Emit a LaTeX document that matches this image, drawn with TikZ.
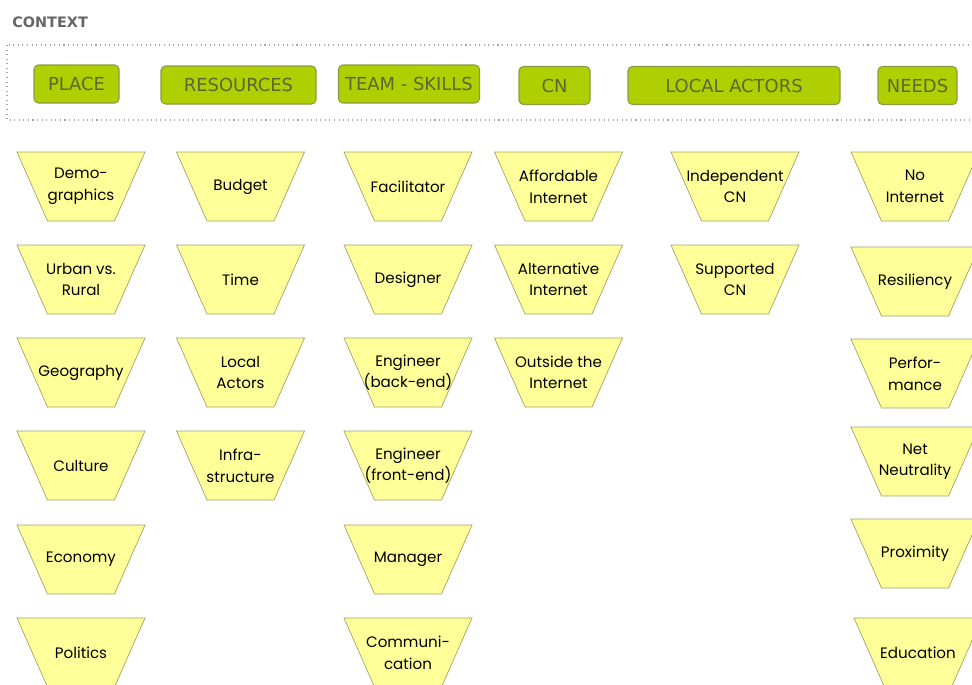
\documentclass[tikz,border=0pt]{standalone}
\usepackage{fontspec}
\setsansfont{DejaVu Sans}
\newfontfamily\cardfont{Poppins}
\usetikzlibrary{positioning}

\definecolor{headgreen}{HTML}{B0CF00}
\definecolor{headline}{HTML}{8C9A45}
\definecolor{headtext}{HTML}{5E6633}
\definecolor{cardfill}{HTML}{FFFF9A}
\definecolor{cardline}{HTML}{A3A36B}
\definecolor{ctxgray}{HTML}{666666}

\tikzset{
  head/.style={draw=headline,fill=headgreen,rounded corners=2.5pt,line width=.6pt,
    text=headtext,font=\sffamily\fontsize{10.2}{12}\selectfont,inner sep=0pt},
  cardshape/.style={draw=cardline,fill=cardfill,line width=.4pt},
  cardtext/.style={align=center,inner sep=0pt,font=\cardfont\fontsize{8.6}{12.3}\selectfont},
}

% one card: name, x, y, text
\newcommand\card[4]{%
  \filldraw[cardshape,shift={(#2,#3)}] (-64,-34.5) -- (64,-34.5) -- (33.5,34.5) -- (-33.5,34.5) -- cycle;
  \node[cardtext] (#1) at (#2,#3) {#4};}

\begin{document}
\begin{tikzpicture}[x=0.02cm,y=-0.02cm]%
\useasboundingbox (0,0) rectangle (972,684);
\clip (0,0) rectangle (972,684);
\fill[white] (0,0) rectangle (972,684);

\node[anchor=west,inner sep=0pt,text=ctxgray,font=\sffamily\bfseries\fontsize{8.2}{10}\selectfont] (ctx) at (12,22) {CONTEXT};
\draw[gray!70,dotted,line width=.6pt] (7,45) rectangle (1000,120);

\begin{scope}
  \tikzstyle{every node}=[head,minimum height=38*0.02cm];%%
  \node[minimum width=85*0.02cm]  (place) at (76.5,84)  {PLACE}; %%
  \node[minimum width=155*0.02cm] (res)   at (238.5,85) {RESOURCES}; %%
  \node[minimum width=141*0.02cm] (team)  at (409,84)   {TEAM - SKILLS}; %%
  \node[minimum width=71*0.02cm]  (cn)    at (554.5,85.5) {CN}; %%
  \node[minimum width=212*0.02cm] (local) at (734,85.5) {LOCAL ACTORS}; %%
  \node[minimum width=79*0.02cm]  (needs) at (917.5,85.5) {NEEDS}; %%
\end{scope}

% place
\card{demo}{81}{186.5}{Demo-\\graphics}
\card{urban}{81}{279.5}{Urban vs.\\Rural}
\card{geo}{81}{372.5}{Geography}
\card{cult}{81}{465.5}{Culture}
\card{eco}{81}{559.5}{Economy}
\card{pol}{81}{652.5}{Politics}
% resources
\card{budget}{240.5}{186.5}{Budget}
\card{time}{240.5}{279.5}{Time}
\card{lact}{240.5}{372.5}{Local\\Actors}
\card{infra}{240.5}{465.5}{Infra-\\structure}
% team - skills
\card{facil}{408}{186.5}{Facilitator}
\card{design}{408}{279.5}{Designer}
\card{engb}{408}{372.5}{Engineer\\(back-end)}
\card{engf}{408}{465.5}{Engineer\\(front-end)}
\card{manag}{408}{559.5}{Manager}
\card{comm}{408}{652.5}{Communi-\\cation}
% cn
\card{afford}{558.5}{186.5}{Affordable\\Internet}
\card{altern}{558.5}{279.5}{Alternative\\Internet}
\card{outside}{558.5}{372.5}{Outside the\\Internet}
% local actors
\card{indep}{735}{186.5}{Independent\\CN}
\card{supp}{735}{279.5}{Supported\\CN}
% needs
\card{noint}{915}{186.5}{No\\Internet}
\card{resil}{915}{281.5}{Resiliency}
\card{perf}{915}{373.5}{Perfor-\\mance}
\card{neut}{915}{461.5}{Net\\Neutrality}
\card{prox}{915}{553.5}{Proximity}
\card{educ}{918}{652.5}{Education}
\end{tikzpicture}
\end{document}
